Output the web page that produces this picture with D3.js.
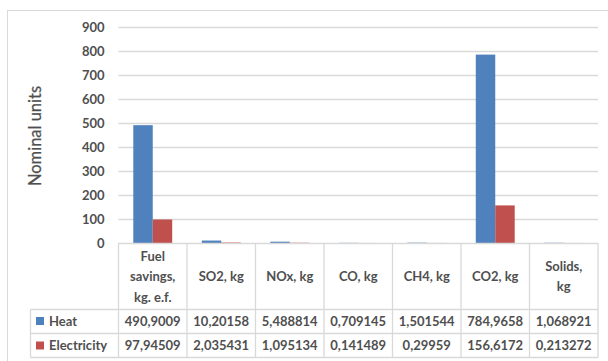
<!DOCTYPE html>
<html><head><meta charset="utf-8">
<script src="https://cdn.jsdelivr.net/npm/d3@7"></script>
<style>body{margin:0;background:#fff;} svg{display:block;}</style>
</head><body>
<script>
const categories = [["Fuel","savings,","kg. e.f."],["SO2, kg"],["NOx, kg"],["CO, kg"],["CH4, kg"],["CO2, kg"],["Solids,","kg"]];
const seriesNames = ["Heat","Electricity"];
const heat = [490.9009,10.20158,5.488814,0.709145,1.501544,784.9658,1.068921];
const electricity = [97.94509,2.035431,1.095134,0.141489,0.29959,156.6172,0.213272];
const heatLabels = ["490,9009","10,20158","5,488814","0,709145","1,501544","784,9658","1,068921"];
const elecLabels = ["97,94509","2,035431","1,095134","0,141489","0,29959","156,6172","0,213272"];
const yTicks = [0,100,200,300,400,500,600,700,800,900];
const colors = ["#4f81bd","#c0504d"];

(function(){
const W=608,H=361;
const svg=d3.select("body").append("svg").attr("width",W).attr("height",H);
const font="Lato, 'Open Sans', sans-serif";
const txt="#4f4f4f", grid="#d9d9d9";

svg.append("rect").attr("x",7.5).attr("y",10.5).attr("width",620).attr("height",400)
  .attr("fill","none").attr("stroke",grid);

const pL=118.5,pR=598,pT=27,pB=243;
const y=d3.scaleLinear().domain([0,900]).range([pB,pT]);
const x=d3.scaleBand().domain(d3.range(categories.length)).range([pL,pR]).paddingInner(0).paddingOuter(0);
const xs=d3.scaleBand().domain([0,1]).range([0,x.bandwidth()]).paddingInner(0).paddingOuter(0.76);

svg.append("g").selectAll("line").data(yTicks.slice(1)).join("line")
  .attr("x1",pL).attr("x2",pR).attr("y1",d=>Math.round(y(d))+0.5).attr("y2",d=>Math.round(y(d))+0.5)
  .attr("stroke",grid).attr("stroke-width",1.3);

const yAxis=d3.axisLeft(y).tickValues(yTicks).tickSize(0).tickPadding(14);
const ga=svg.append("g").attr("transform",`translate(${pL},0)`).call(yAxis);
ga.select(".domain").remove();
ga.selectAll("text").attr("font-family",font).attr("font-weight","bold").attr("font-size",13).attr("fill",txt);

svg.append("text").attr("transform",`translate(41,136) rotate(-90)`).attr("text-anchor","middle")
  .attr("font-family",font).attr("font-size",16.5).attr("fill",txt).attr("stroke",txt).attr("stroke-width",0.25).text("Nominal units");

const series=[heat,electricity];
series.forEach((vals,si)=>{
  svg.append("g").selectAll("rect").data(vals).join("rect")
    .attr("x",(d,i)=>x(i)+xs(si)).attr("width",xs.bandwidth())
    .attr("y",d=>y(d)).attr("height",d=>pB-y(d))
    .attr("fill",colors[si]);
});

const r1=309.5, r2=333.5, r3=357.5, legL=30.5;
const g=svg.append("g").attr("stroke",grid).attr("stroke-width",1.3);
g.append("line").attr("x1",pL).attr("x2",pR).attr("y1",pB+0.5).attr("y2",pB+0.5);
[r1,r2,r3].forEach(yy=>g.append("line").attr("x1",legL).attr("x2",pR).attr("y1",yy).attr("y2",yy));
d3.range(categories.length+1).forEach(i=>{
  const xx=i<categories.length?x(i):pR;
  g.append("line").attr("x1",xx).attr("x2",xx).attr("y1",pB).attr("y2",r3);
});
g.append("line").attr("x1",legL).attr("x2",legL).attr("y1",r1).attr("y2",r3);

categories.forEach((lines,i)=>{
  const cx=x(i)+x.bandwidth()/2;
  const lh=20.5;
  const y0=276.5-(lines.length-1)*lh/2;
  const t=svg.append("text").attr("text-anchor","middle").attr("font-family",font).attr("font-weight","bold")
    .attr("font-size",13).attr("fill",txt);
  lines.forEach((l,k)=>t.append("tspan").attr("x",cx).attr("y",y0+k*lh).attr("dy","0.35em").text(l));
});

[[heatLabels,321],[elecLabels,345.5]].forEach(([labs,yy],si)=>{
  svg.append("g").selectAll("text").data(labs).join("text")
    .attr("x",(d,i)=>x(i)+x.bandwidth()/2).attr("y",yy).attr("dy","0.35em").attr("text-anchor","middle")
    .attr("font-family",font).attr("font-weight","bold").attr("font-size",13).attr("fill",txt).text(d=>d);
  svg.append("rect").attr("x",36).attr("y",yy-4).attr("width",8).attr("height",8).attr("fill",colors[si]);
  svg.append("text").attr("x",49).attr("y",yy).attr("dy","0.35em").attr("font-family",font).attr("font-weight","bold")
    .attr("font-size",13).attr("fill",txt).text(seriesNames[si]);
});
})();
</script>
</body></html>
